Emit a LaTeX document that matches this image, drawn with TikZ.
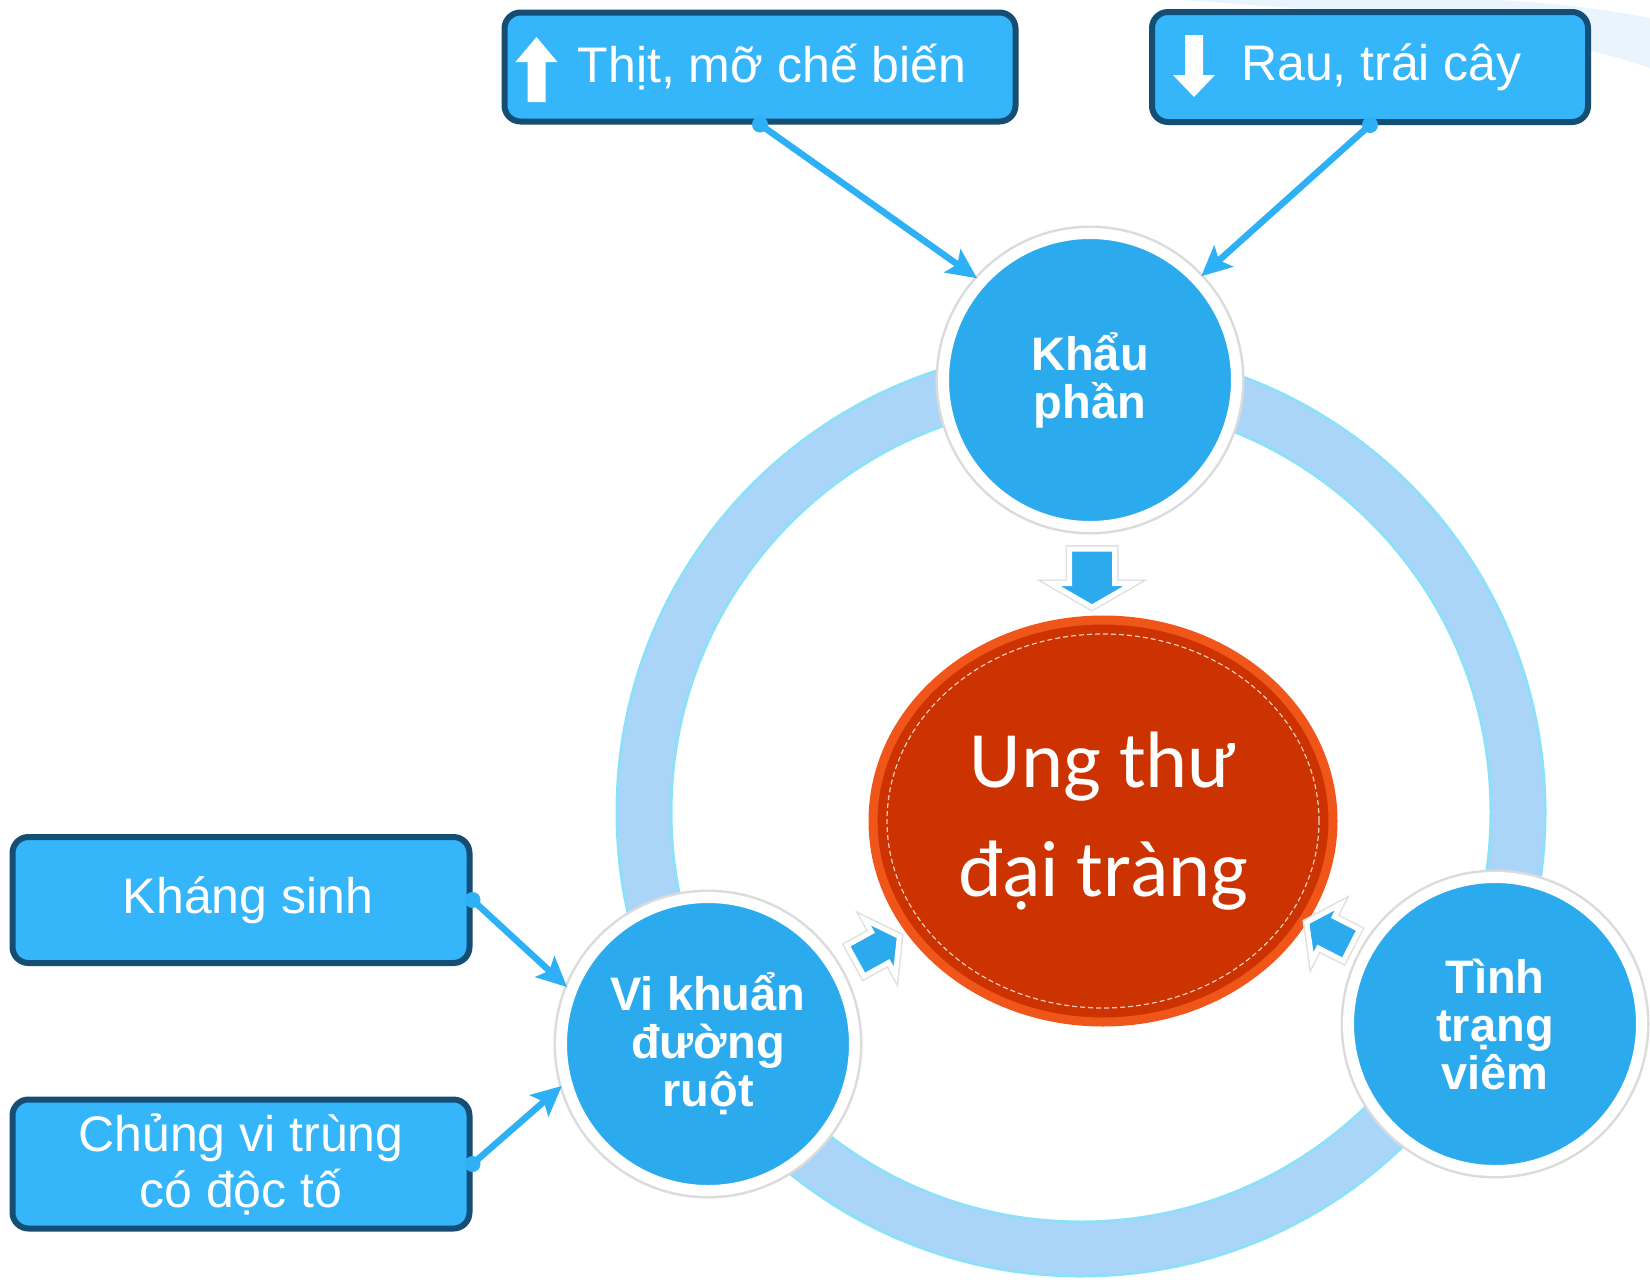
\documentclass[tikz,border=0pt]{standalone}
\usepackage{fontspec}
\setmainfont{Liberation Sans}
\newfontfamily\carlito{Carlito}
\usetikzlibrary{arrows.meta,shapes.geometric,shapes.arrows,shadows}

\definecolor{boxfill}{HTML}{35B6FA}
\definecolor{boxline}{HTML}{144E74}
\definecolor{circfill}{HTML}{2CAAEE}
\definecolor{ringfill}{HTML}{ABD5F8}
\definecolor{ringedge}{HTML}{8EE0F8}
\definecolor{linkblue}{HTML}{2DB0F6}
\definecolor{redfill}{HTML}{CC3300}
\definecolor{redrim}{HTML}{F0561A}
\definecolor{swoosh}{HTML}{E9F4FC}

\tikzset{
  infobox/.style={draw=boxline, line width=6pt, fill=boxfill, rounded corners=16pt,
    text=white, font=\fontsize{50}{56}\selectfont, align=center, inner sep=0pt},
  bubble/.style={circle, draw=white, line width=11pt, fill=circfill, minimum size=293pt,
    inner sep=0pt, text=white, font=\bfseries\fontsize{47}{48}\selectfont, align=center,
    preaction={draw=black!14, line width=16pt},
    drop shadow={shadow xshift=2pt, shadow yshift=-4pt, opacity=0.15, fill=black}},
  link/.style={line width=6.5pt, draw=linkblue, -{Stealth[length=30pt,width=28pt,inset=6pt]}},
  blockarrow/.style={single arrow, fill=circfill, draw=white, line width=5pt, inner xsep=0pt,
    single arrow head indent=0pt, preaction={draw=black!12, line width=8pt}}
}

\begin{document}
\begin{tikzpicture}[x=1pt,y=-1pt]
        \useasboundingbox (0,0) rectangle (1650,1283);
        \coordinate (ring) at (1081,812);
        \coordinate (ckhau) at (1090,380);
        \coordinate (cvi) at (708,1044);
        \coordinate (ctinh) at (1495,1024);

        % Background
        \fill[swoosh] (1180,0) .. controls (1400,14) and (1550,34) .. (1650,68)
            -- (1650,18) .. controls (1600,8) and (1540,2) .. (1500,0) -- cycle;
        \draw[ringfill, line width=54pt] (ring) circle [radius=437pt];
        \draw[ringedge, line width=3pt] (ring) circle [radius=464pt];
        \draw[ringedge, line width=3pt] (ring) circle [radius=410pt];

        % Nodes
        \node[infobox, minimum width=511pt, minimum height=109pt] (thit) at (760,67)
            {\hspace{24pt}Thịt, mỡ chế biến};
        \node[infobox, minimum width=436pt, minimum height=110pt] (rau) at (1370,67)
            {\hspace{23pt}Rau, trái cây};
        \node[infobox, minimum width=457pt, minimum height=126pt] (khang) at (241,900)
            {\hspace{14pt}Kháng sinh};
        \node[infobox, minimum width=457pt, minimum height=129pt] (chung) at (241,1164)
            {Chủng vi trùng\\có độc tố};
        \foreach \p/\txt in {khau/{Khẩu\\phần}, vi/{Vi khuẩn\\đường\\ruột}, tinh/{Tình\\trạng\\viêm}}
            \node[bubble] (\p) at (c\p) {\txt};
        \node[ellipse, fill=redfill, draw=redrim, line width=9pt, minimum width=460pt,
            minimum height=402pt, inner sep=0pt, text=white,
            font=\carlito\fontsize{80}{109}\selectfont, align=center] (ung) at (1103,821)
            {Ung thư\\đại tràng};
        \draw[white!75!redfill, line width=1.2pt, dash pattern=on 5pt off 3pt]
            (ung.center) ellipse [x radius=216pt, y radius=187pt];

        % Icons in the top boxes
        \fill[white, shift={(thit.west)}] (35,-30) -- (56,-5) -- (44,-5) -- (44,35)
            -- (26,35) -- (26,-5) -- (14,-5) -- cycle;
        \fill[white, shift={(rau.west)}] (45,30) -- (66,8) -- (54,8) -- (54,-32)
            -- (36,-32) -- (36,8) -- (24,8) -- cycle;

        % Block arrows to the centre
        \node[blockarrow, inner ysep=20pt, minimum height=58pt, single arrow head extend=18pt,
            single arrow tip angle=120, rotate=-90, anchor=tip] (adown) at (1092,610) {};
        \node[blockarrow, inner ysep=15pt, minimum height=50pt, single arrow head extend=14pt,
            single arrow tip angle=110, rotate=29, anchor=tip] (avi) at (902,935) {};
        \node[blockarrow, inner ysep=15pt, minimum height=50pt, single arrow head extend=14pt,
            single arrow tip angle=110, rotate=153, anchor=tip] (atinh) at (1304,921) {};

        % Edges
        \foreach \a/\b in {thit.south/khau.138, rau.south/khau.43, khang.east/vi.158, chung.east/vi.196} {
            \draw[link] (\a) -- (\b);
            \fill[linkblue] (\a) circle (8pt);
        }
    \end{tikzpicture}
\end{document}
